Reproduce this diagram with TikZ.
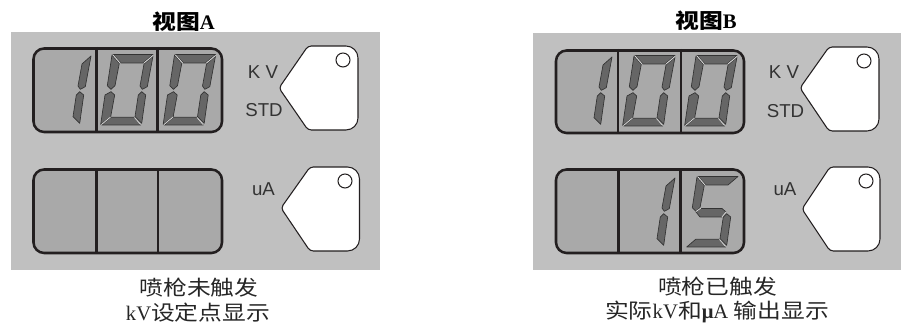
\documentclass[tikz,border=0pt]{standalone}
\usepackage{fontspec}
\setmainfont{Liberation Sans}
\newfontfamily\cjk[FakeStretch=1.15]{Noto Sans CJK SC}
\newfontfamily\latn{Liberation Serif}
\definecolor{panelgray}{HTML}{C0C0C0}
\definecolor{dispgray}{HTML}{A9A9A9}
\definecolor{seggray}{HTML}{666666}
\definecolor{edgegray}{HTML}{333333}
\definecolor{inkdark}{HTML}{231F20}
\tikzset{
  panel/.style={fill=panelgray,draw=none},
  disp/.style={fill=dispgray,draw=inkdark,line width=1.9pt,rounded corners=8pt},
  divider/.style={draw=inkdark,line width=1.6pt},
  seg/.style={fill=seggray,draw=edgegray,line width=0.5pt,line join=round},
  bevel/.style={draw=white!85!black,line width=0.6pt},
  keyshape/.style={fill=white,draw=inkdark,line width=0.8pt},
  keyhole/.style={fill=white,draw=inkdark,line width=0.8pt},
  lbl/.style={inner sep=0pt,font=\fontsize{14}{16}\selectfont,text=black!80},
  title/.style={inner sep=0pt,font=\cjk\fontsize{15.5}{18}\selectfont\bfseries,text=black},
  caption/.style={inner sep=0pt,font=\cjk\fontsize{15.5}{18}\selectfont,text=black!85},
}
% segments, coordinates relative to the digit's top-left corner
\newcommand{\segA}{\path[seg] (1,0.5) -- (41,0.5) -- (31,9) -- (9,9) -- cycle;}
\newcommand{\segB}{\path[seg] (41,2) -- (32,10) -- (28,32) -- (30.3,35.3) -- (35.3,32.7) -- cycle;}
\newcommand{\segC}{\path[seg] (29.7,37.7) -- (33.7,41) -- (29.7,69.3) -- (23,62.7) -- (26.3,41) -- cycle;}
\newcommand{\segD}{\path[seg] (-10.3,71) -- (-1.3,63.3) -- (22.3,63.3) -- (28.7,71) -- cycle;}
\newcommand{\segE}{\path[seg] (-1,37.7) -- (2.7,41) -- (-1.3,62.7) -- (-11.3,70.3) -- (-7,41) -- cycle;}
\newcommand{\segF}{\path[seg] (0,1) -- (7.3,9.3) -- (3,31.7) -- (-1,35.3) -- (-4.7,31.7) -- cycle;}
\newcommand{\segG}{\path[seg] (-1,36) -- (3,32.5) -- (25,32.5) -- (29,36) -- (25,41) -- (3,41) -- cycle;}
\newcommand{\bevZ}{\draw[bevel] (1,1) -- (8,9) (41,1.5) -- (32,9) (-10.5,70.5) -- (-1.5,63) (28.5,70.5) -- (22.5,63.5);}
\newcommand{\bevFive}{\draw[bevel] (1,1) -- (8,9) (-1,35.5) -- (4,32) (29,36) -- (25,41) (28.5,70.5) -- (22.5,63.5);}
\newcommand{\digOne}[2]{\begin{scope}[shift={(#1,#2)}]\segB\segC\end{scope}}
\newcommand{\digZero}[2]{\begin{scope}[shift={(#1,#2)}]\segA\segB\segC\segD\segE\segF\bevZ\end{scope}}
\newcommand{\digFive}[2]{\begin{scope}[shift={(#1,#2)}]\segA\segF\segG\segC\segD\bevFive\end{scope}}
% key: tip x, tip y, corner x, top y, right x, bottom y
\newcommand{\keyPlate}[6]{\path[keyshape] ({(#1+#3)/2},{(#2+#4)/2})
  [rounded corners=2.5pt] -- (#3,#4) -- ({(#3+#5)/2},#4)
  [rounded corners=9pt] -- (#5,#4) -- (#5,#6) -- ({(#3+#5)/2},#6)
  [rounded corners=2.5pt] -- (#3,#6) -- (#1,#2) -- cycle;}
\begin{document}
\begin{tikzpicture}[x=0.75pt,y=-0.75pt]
\useasboundingbox (0,0) rectangle (901,327);
% view A
\path[panel] (11,32) rectangle (380,270);
\path[disp] (33.5,48.5) rectangle (222,132);
\draw[divider] (96.5,47) -- (96.5,133);
\draw[divider] (157.5,47) -- (157.5,133);
\digOne{50}{54}
\digZero{112}{54}
\digZero{174.5}{54}
\path[disp] (33.5,169.5) rectangle (222,253);
\draw[divider] (96.5,169) -- (96.5,253);
\draw[divider] (158,169) -- (158,253);
\keyPlate{279}{88}{308}{46}{358}{130}
\path[keyhole] (343,60) circle[radius=7];
\keyPlate{281}{208}{310}{167}{359.5}{251}
\path[keyhole] (345,181) circle[radius=7];
\node[lbl] (kvA) at (263,72) {K V};
\node[lbl] (stdA) at (264,110) {STD};
\node[lbl] (uaA) at (263.5,189) {uA};
\node[title] (titleA) at (183.5,22) {视图{\latn A}};
\node[caption] (capAa) at (199,288) {喷枪未触发};
\node[caption] (capAb) at (198,313) {{\latn kV}设定点显示};
% view B
\path[panel] (533,33) rectangle (901,270);
\path[disp] (556,50.5) rectangle (744,133);
\draw[divider] (618,49) -- (618,134);
\draw[divider] (681,49) -- (681,134);
\digOne{571}{55}
\digZero{634}{55}
\digZero{696}{55}
\path[disp] (556,169.5) rectangle (744,253);
\draw[divider] (618.5,169) -- (618.5,253);
\draw[divider] (680.5,169) -- (680.5,253);
\digOne{634}{176}
\digFive{697}{176}
\keyPlate{800}{88}{829}{47}{879}{131}
\path[keyhole] (864,61) circle[radius=7];
\keyPlate{802}{209}{830}{167}{880}{251}
\path[keyhole] (866,181) circle[radius=7];
\node[lbl] (kvB) at (784,72.5) {K V};
\node[lbl] (stdB) at (785.5,111) {STD};
\node[lbl] (uaB) at (785,189) {uA};
\node[title] (titleB) at (706,21) {视图{\latn B}};
\node[caption] (capBa) at (717.5,287) {喷枪已触发};
\node[caption] (capBb) at (717,312) {实际{\latn kV}和{\latn\bfseries μ}{\latn A} 输出显示};
\end{tikzpicture}
\end{document}
